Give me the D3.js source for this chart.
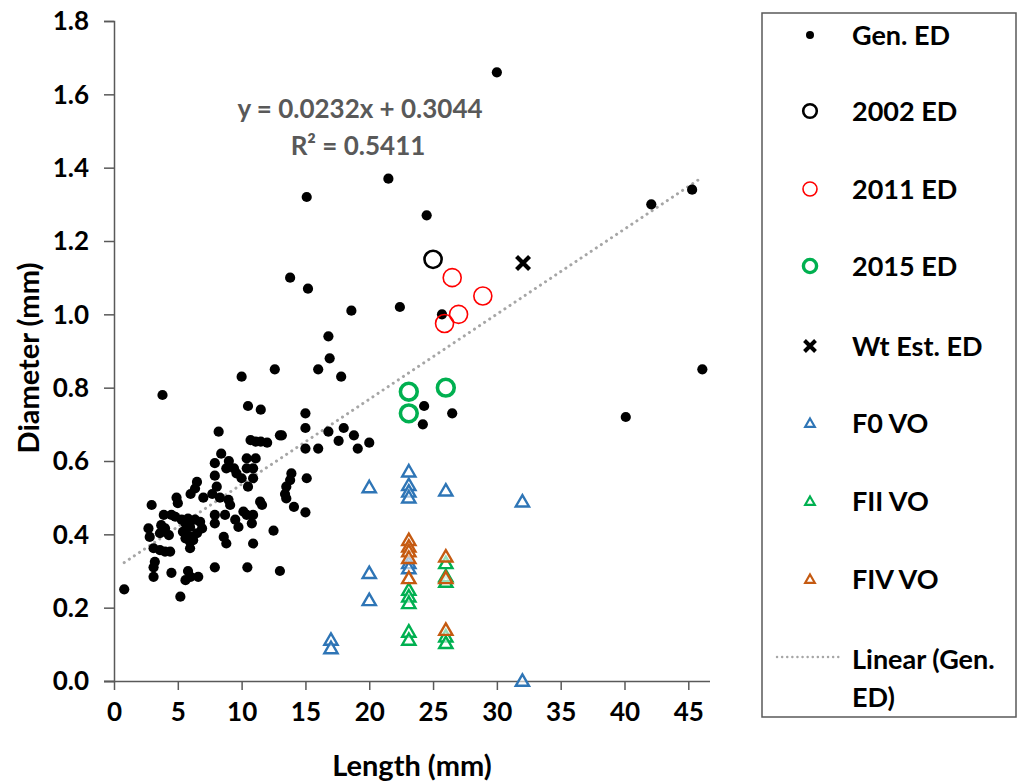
<!DOCTYPE html>
<html>
<head>
<meta charset="utf-8">
<script src="https://cdn.jsdelivr.net/npm/d3@7"></script>
<style>
  html, body { margin: 0; padding: 0; background: #fff; }
  svg text { font-family: Lato, "Open Sans", sans-serif; font-weight: bold; }
</style>
</head>
<body>
<svg id="chart" width="1020" height="783"></svg>
<script>
// ---------------- data ----------------
const genX = [30.0,21.5,15.1,24.5,42.1,45.3,13.8,15.2,18.6,22.4,25.7,16.8,16.9,16.0,17.8,10.0,12.6,3.8,46.1,40.1,24.3,24.2,26.5,
  10.5,11.5,15.0,15.0,8.2,13.0,16.8,18.0,17.6,18.8,20.0,15.0,16.0,19.1,13.15,10.7,11.1,11.5,
  8.4,9.0,8.8,9.4,9.6,10.0,10.4,11.1,10.4,10.9,10.9,10.5,7.9,7.9,8.05,7.7,13.9,13.8,13.5,13.4,13.5,15.1,14.1,15.0,
  6.5,6.35,6.0,4.9,5.0,2.95,8.3,8.97,9.1,11.6,11.45,3.9,4.5,4.8,3.7,4.0,5.3,5.6,5.96,6.35,6.75,6.9,6.5,6.1,5.7,5.96,5.96,
  5.8,5.4,5.6,6.2,4.3,7.9,8.7,9.5,9.75,10.14,10.4,10.9,10.8,7.9,12.5,2.7,2.8,3.6,8.6,8.8,10.9,3.1,3.6,4.0,4.4,3.2,3.1,3.1,
  4.5,5.8,5.6,6.0,6.6,7.9,10.45,13.0,0.8,5.2,7.0,12.0];
const genY = [1.66,1.37,1.32,1.27,1.30,1.34,1.10,1.07,1.01,1.02,1.00,0.94,0.88,0.85,0.83,0.83,0.85,0.78,0.85,0.72,0.75,0.70,0.73,
  0.75,0.74,0.73,0.69,0.68,0.67,0.68,0.69,0.655,0.67,0.65,0.634,0.634,0.634,0.67,0.657,0.653,0.653,
  0.62,0.60,0.58,0.58,0.566,0.553,0.607,0.607,0.58,0.58,0.553,0.53,0.594,0.56,0.53,0.51,0.566,0.548,0.53,0.51,0.498,0.553,0.475,0.46,
  0.543,0.525,0.51,0.50,0.485,0.48,0.50,0.494,0.48,0.48,0.489,0.453,0.453,0.448,0.425,0.416,0.44,0.43,0.42,0.44,0.434,0.416,0.403,0.393,0.398,0.38,0.362,
  0.443,0.407,0.389,0.384,0.398,0.453,0.453,0.44,0.42,0.462,0.453,0.453,0.43,0.43,0.41,0.416,0.393,0.403,0.393,0.375,0.375,0.362,0.357,0.353,0.353,0.325,0.31,0.284,
  0.295,0.30,0.275,0.284,0.284,0.31,0.31,0.30,0.25,0.23,0.50,0.65];

const ed2002X = [25.0];
const ed2002Y = [1.15];
const ed2011X = [26.5, 28.9, 27.0, 25.9];
const ed2011Y = [1.10, 1.05, 1.00, 0.975];
const ed2015X = [23.1, 26.0, 23.1];
const ed2015Y = [0.789, 0.80, 0.73];
const wtX = [32.05];
const wtY = [1.14];

const f0X = [23.1,20,23.1,23.1,23.1,26,32,20,20,23.1,23.1,32,17,17];
const f0Y = [0.571,0.528,0.534,0.516,0.50,0.519,0.489,0.294,0.22,0.321,0.307,0.0,0.112,0.089];
const f2X = [23.1,23.1,23.1,23.1,23.1,26,26,26,26,26];
const f2Y = [0.248,0.23,0.212,0.134,0.112,0.321,0.27,0.285,0.121,0.103];
const f4X = [23.1,23.1,23.1,23.1,23.1,26,26,26];
const f4Y = [0.384,0.366,0.353,0.335,0.28,0.339,0.28,0.139];

const slope = 0.0232, intercept = 0.3044;
const eqText = "y = 0.0232x + 0.3044";
const r2Text = "R² = 0.5411";

const xTicks = [0,5,10,15,20,25,30,35,40,45];
const yTicks = [0.0,0.2,0.4,0.6,0.8,1.0,1.2,1.4,1.6,1.8];
const legendLabels = ["Gen. ED","2002 ED","2011 ED","2015 ED","Wt Est. ED","F0 VO","FII VO","FIV VO","Linear (Gen."];
const xTitle = "Length (mm)";
const yTitle = "Diameter (mm)";

// ---------------- chart ----------------
const svg = d3.select("#chart");
const x = d3.scaleLinear().domain([0, 46.7]).range([114, 710]);
const y = d3.scaleLinear().domain([0, 1.8]).range([681, 21]);
const axisColor = "#595959";

const zip = (a, b) => a.map((v, i) => [v, b[i]]);

// axes
const gx = svg.append("g").attr("transform", "translate(0,681)")
  .call(d3.axisBottom(x).tickValues(xTicks).tickSize(9).tickPadding(13).tickFormat(d3.format("d")));
const gy = svg.append("g").attr("transform", "translate(114,0)")
  .call(d3.axisLeft(y).tickValues(yTicks).tickSize(10).tickPadding(15).tickFormat(d3.format(".1f")));
[gx, gy].forEach(g => {
  g.select(".domain").attr("stroke", axisColor).attr("stroke-width", 1.5);
  g.selectAll(".tick line").attr("stroke", axisColor).attr("stroke-width", 1.5);
  g.selectAll("text").attr("font-size", 26).attr("fill", "#000")
    .style("font-family", "Lato, sans-serif").style("font-weight", "bold");
});
gx.select(".domain").attr("d", "M104,0.5H710");
gx.selectAll(".tick text").attr("dy", "0.71em");
gy.selectAll(".tick text").attr("dy", "0.34em");

// axis titles
svg.append("text").attr("x", 412).attr("y", 776).attr("text-anchor", "middle")
  .attr("font-size", 29).attr("fill", "#000").text(xTitle);
svg.append("text").attr("transform", "translate(39,358) rotate(-90)").attr("text-anchor", "middle")
  .attr("font-size", 29).attr("fill", "#000").text(yTitle);

// trendline
const xMin = d3.min(genX), xMax = d3.max(genX);
svg.append("line")
  .attr("x1", x(xMin)).attr("y1", y(slope * xMin + intercept))
  .attr("x2", x(xMax)).attr("y2", y(slope * xMax + intercept))
  .attr("stroke", "#A6A6A6").attr("stroke-width", 3)
  .attr("stroke-dasharray", "0.1,6").attr("stroke-linecap", "round");

// gen ED
svg.append("g").selectAll("circle").data(zip(genX, genY)).join("circle")
  .attr("cx", d => x(d[0])).attr("cy", d => y(d[1])).attr("r", 5.1).attr("fill", "#000");

// open circles
function openCircles(xs, ys, color, sw, r) {
  svg.append("g").selectAll("circle").data(zip(xs, ys)).join("circle")
    .attr("cx", d => x(d[0])).attr("cy", d => y(d[1])).attr("r", r)
    .attr("fill", "none").attr("stroke", color).attr("stroke-width", sw);
}
openCircles(ed2002X, ed2002Y, "#000", 2.6, 8.6);
openCircles(ed2011X, ed2011Y, "#FF0000", 1.6, 9);
openCircles(ed2015X, ed2015Y, "#00B050", 3.6, 8.4);

// X marker
function crossPath(cx, cy, s) {
  return `M${cx - s},${cy - s}L${cx + s},${cy + s}M${cx - s},${cy + s}L${cx + s},${cy - s}`;
}
svg.append("g").selectAll("path").data(zip(wtX, wtY)).join("path")
  .attr("d", d => crossPath(x(d[0]), y(d[1]), 6.5))
  .attr("stroke", "#000").attr("stroke-width", 4.2).attr("fill", "none");

// triangles
const tri = d3.symbol().type(d3.symbolTriangle).size(76);
function triangles(xs, ys, color) {
  svg.append("g").selectAll("path").data(zip(xs, ys)).join("path")
    .attr("d", tri).attr("transform", d => `translate(${x(d[0])},${y(d[1]) + 1})`)
    .attr("fill", "#fff").attr("fill-opacity", 0.6).attr("stroke", color).attr("stroke-width", 2.4);
}
triangles(f0X, f0Y, "#2E75B6");
triangles(f2X, f2Y, "#00B050");
triangles(f4X, f4Y, "#C55A11");

// equation
svg.append("text").attr("x", 360).attr("y", 118).attr("text-anchor", "middle")
  .attr("font-size", 26).attr("fill", "#595959").text(eqText);
svg.append("text").attr("x", 358).attr("y", 155).attr("text-anchor", "middle")
  .attr("font-size", 26).attr("fill", "#595959").text(r2Text);

// legend
const lg = svg.append("g");
lg.append("rect").attr("x", 762).attr("y", 13).attr("width", 254).attr("height", 704)
  .attr("fill", "#fff").attr("stroke", axisColor).attr("stroke-width", 1.5);
const rowY = [35, 111, 189, 266, 346, 423, 501, 579, 659];
const mx = 810, tx = 852;
legendLabels.forEach((t, i) => {
  lg.append("text").attr("x", tx).attr("y", rowY[i]).attr("dy", "0.36em")
    .attr("font-size", 27).attr("fill", "#000").text(t);
});
lg.append("text").attr("x", tx).attr("y", 697).attr("dy", "0.36em")
  .attr("font-size", 27).attr("fill", "#000").text("ED)");
lg.append("circle").attr("cx", mx).attr("cy", rowY[0]).attr("r", 4).attr("fill", "#000");
lg.append("circle").attr("cx", mx).attr("cy", rowY[1]).attr("r", 6.8).attr("fill", "none").attr("stroke", "#000").attr("stroke-width", 2.6);
lg.append("circle").attr("cx", mx).attr("cy", rowY[2]).attr("r", 7).attr("fill", "none").attr("stroke", "#FF0000").attr("stroke-width", 1.6);
lg.append("circle").attr("cx", mx).attr("cy", rowY[3]).attr("r", 6.6).attr("fill", "none").attr("stroke", "#00B050").attr("stroke-width", 3.4);
lg.append("path").attr("d", crossPath(mx, rowY[4], 5.5)).attr("stroke", "#000").attr("stroke-width", 4);
const triL = d3.symbol().type(d3.symbolTriangle).size(40);
[["#2E75B6", 5], ["#00B050", 6], ["#C55A11", 7]].forEach(([c, i]) => {
  lg.append("path").attr("d", triL).attr("transform", `translate(${mx},${rowY[i] + 1})`)
    .attr("fill", "none").attr("stroke", c).attr("stroke-width", 2.2);
});
lg.append("line").attr("x1", 777).attr("x2", 839).attr("y1", rowY[8] - 2).attr("y2", rowY[8] - 2)
  .attr("stroke", "#A6A6A6").attr("stroke-width", 2.4)
  .attr("stroke-dasharray", "0.1,5").attr("stroke-linecap", "round");
</script>
</body>
</html>
